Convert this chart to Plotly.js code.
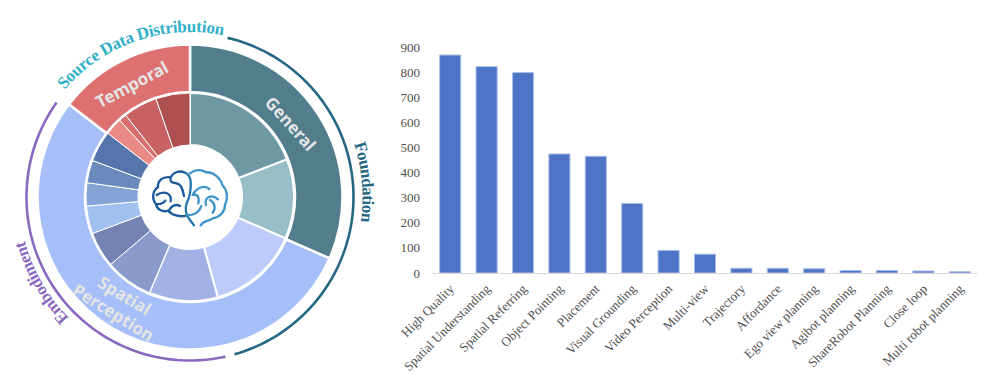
<!DOCTYPE html>
<html><head><meta charset="utf-8">
<script src="https://cdn.plot.ly/plotly-3.0.1.min.js"></script>
<style>html,body{margin:0;padding:0;background:#fff}#c{width:1006px;height:381px}</style>
</head><body><div id="c"></div>
<script>
// ----- bar chart data
const barCategories = ["High Quality","Spatial Understanding","Spatial Referring","Object Pointing","Placement","Visual Grounding","Video Perception","Multi-view","Trajectory","Affordance","Ego view planning","Agibot planning","ShareRobot Planning","Close loop","Multi robot planning"];
const barValues = [868,822,798,474,465,277,90,75,19,19,17,10,10,8,5];
const yTicks = [0,100,200,300,400,500,600,700,800,900];
// ----- ring data (estimated shares, %)
const outerLabels = ["General","Spatial Perception","Temporal"];
const outerShares = [31.6,53.8,14.6];
const outerColors = ["#517d8d","#a6bff9","#dd7070"];
const innerShares = [19.1,12.4,14.2,10.7,7.4,5.5,4.3,3.6,3.5,4.8,2.7,1.2,5.3,5.3];
const innerColors = ["#6f98a5","#98bfc8","#bccafc","#a1b1e4","#8a9acb","#7483b3","#a0c0ef","#84a4d6","#6a8abd","#5675ac","#ea8a87","#d56e6c","#c86262","#af5050"];
const innerLineWidths = [2,2,2,2,1,1,1,1,1,1,1,1,1,1];
const W=1006,H=381,CX=190,CY=197,RO=152.5,RM=105,RI=52,RARC=163.5;
const px=x=>x/W, py=y=>1-y/H;
const pt=(r,d)=>{const a=d*Math.PI/180;return [CX+r*Math.sin(a),CY-r*Math.cos(a)];};
function arcPath(r,a0,a1){ // clockwise sweep in screen pixels
  const p=pt(r,a0),q=pt(r,a1),large=((a1-a0+720)%360)>180?1:0;
  return `M${p[0]} ${p[1]} A${r} ${r} 0 ${large} 1 ${q[0]} ${q[1]}`;
}
function arcShape(a0,a1,color){ // polyline in paper coordinates
  let d='';const n=90;
  for(let i=0;i<=n;i++){const t=a0+(a1-a0)*i/n,p=pt(RARC,t);d+=(i?'L':'M')+px(p[0])+','+py(p[1]);}
  return {type:'path',xref:'paper',yref:'paper',path:d,line:{color:color,width:2.6},layer:'above'};
}
const brainSvg=`<svg xmlns="http://www.w3.org/2000/svg" width="120" height="100" viewBox="0 0 360 300"><g fill="none" stroke-width="7" stroke-linecap="round" stroke-linejoin="round">
<path stroke="#1d5b9b" d="M122 112C98 108 82 122 84 142C68 152 64 176 78 192C80 208 98 218 115 212C125 225 150 232 168 227M122 112C130 96 150 90 165 98M122 112C118 134 135 124 148 134C160 144 158 155 162 168M80 165C102 150 126 160 122 184M78 192C92 194 100 190 106 182M118 210C125 195 140 192 150 198"/>
<path stroke="#2677b2" d="M165 98C175 102 181 112 182 125C183 140 182 165 170 190C164 205 168 225 178 238L192 256"/>
<path stroke="#3f95c8" d="M180 100C195 88 215 88 228 97C250 95 272 115 277 135C292 150 295 175 285 195C285 215 270 232 248 235C235 246 222 240 212 256M188 165C200 142 222 134 238 147M190 165C205 160 208 178 205 190M228 195C222 172 245 160 264 178M240 180C255 188 258 205 248 218M170 226C190 226 208 218 214 198"/>
</g></svg>`;
const data=[
 {type:'pie',values:outerShares,labels:outerLabels,sort:false,direction:'clockwise',rotation:0,hole:RM/RO,textinfo:'none',hoverinfo:'none',
  domain:{x:[px(CX-RO),px(CX+RO)],y:[py(CY+RO),py(CY-RO)]},marker:{colors:outerColors,line:{color:'#fff',width:2.5}},showlegend:false},
 {type:'pie',values:innerShares,sort:false,direction:'clockwise',rotation:0,hole:RI/(RM-1),textinfo:'none',hoverinfo:'none',
  domain:{x:[px(CX-RM+1),px(CX+RM-1)],y:[py(CY+RM-1),py(CY-RM+1)]},marker:{colors:innerColors,line:{color:'#fff',width:innerLineWidths}},showlegend:false},
 {type:'bar',x:barCategories,y:barValues,width:0.58,marker:{color:'#4e74c6',line:{color:'#a9bfe8',width:1}},hoverinfo:'none',showlegend:false}
];
const ringFont={family:'"Noto Sans","Open Sans",sans-serif',size:17,color:'#e4e4e4',weight:700};
const ann=(text,x,y,angle)=>({text:text,xref:'paper',yref:'paper',x:px(x),y:py(y),xanchor:'center',yanchor:'middle',showarrow:false,textangle:angle,font:ringFont});
const layout={width:W,height:H,margin:{l:0,r:0,t:0,b:0},paper_bgcolor:'#fff',plot_bgcolor:'#fff',showlegend:false,
 xaxis:{domain:[432/W,978/W],range:[-0.5,14.5],type:'category',tickangle:-45,ticks:'',showgrid:false,zeroline:false,showline:true,linecolor:'#d9d9d9',linewidth:1,ticklabelstandoff:2,
  tickfont:{family:'"Liberation Serif",serif',size:13,color:'#505050'},automargin:false},
 yaxis:{domain:[(H-273)/H,(H-47)/H],range:[0,900],tickvals:yTicks,ticks:'',showgrid:false,zeroline:false,showline:false,ticklabelstandoff:11,
  tickfont:{family:'"Liberation Serif",serif',size:13,color:'#505050'},automargin:false},
 shapes:[arcShape(13.3,164.2,'#266784'),arcShape(167.5,305.3,'#8b68c0')],
 annotations:[ann('General',291,123,48),ann('Temporal',131,84,-28),ann('Spatial',125,295,31),ann('Perception',114,312,32)],
 images:[{source:'data:image/svg+xml;utf8,'+encodeURIComponent(brainSvg),xref:'paper',yref:'paper',x:px(130),y:py(140),sizex:120/W,sizey:100/H,xanchor:'left',yanchor:'top',layer:'above',sizing:'stretch'}]
};
const curved=[
 {text:'Source Data Distribution',r:165,a0:310.5,a1:11.5,color:'#2fb0c8',size:17,len:176},
 {text:'Foundation',r:172.5,a0:72,a1:98.5,color:'#266784',size:17,len:79},
 {text:'Embodiment',r:171,a0:225,a1:256,color:'#8b68c0',size:17,len:90}
];
Plotly.newPlot('c',data,layout,{staticPlot:true,displayModeBar:false}).then(()=>{
 const NS='http://www.w3.org/2000/svg',root=document.querySelector('#c .main-svg:last-of-type');
 const g=document.createElementNS(NS,'g');
 curved.forEach((c,i)=>{
  const p=document.createElementNS(NS,'path');p.setAttribute('id','arc'+i);p.setAttribute('d',arcPath(c.r,c.a0,c.a1));p.setAttribute('fill','none');g.appendChild(p);
  const t=document.createElementNS(NS,'text');t.setAttribute('font-family','"Liberation Serif",serif');t.setAttribute('font-weight','700');t.setAttribute('font-size',c.size);t.setAttribute('fill',c.color);
  const tp=document.createElementNS(NS,'textPath');tp.setAttribute('href','#arc'+i);tp.setAttribute('textLength',c.len);tp.textContent=c.text;t.appendChild(tp);g.appendChild(t);
 });
 root.appendChild(g);
});
</script></body></html>
